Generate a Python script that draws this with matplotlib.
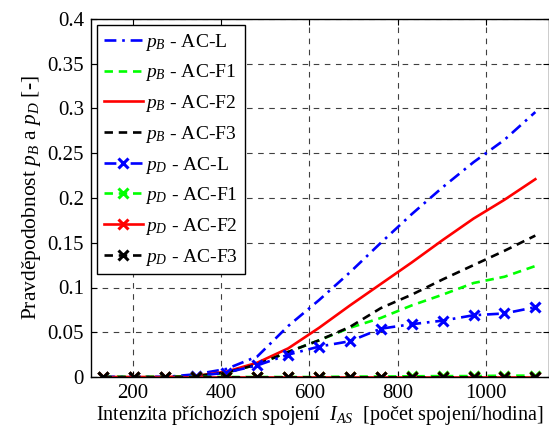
import numpy as np
import matplotlib
matplotlib.use('Agg')
from matplotlib import pyplot as plt

# intensity of incoming connections [connections/hour]
intensity = [132, 202, 272, 342, 412, 482, 552, 622, 692, 762,
             832, 902, 972, 1042, 1112]

# blocking probability p_B
pB_L = [0, 0, 0, 0.003, 0.009, 0.023, 0.057, 0.086, 0.117, 0.150,
        0.182, 0.212, 0.240, 0.265, 0.296]
pB_F1 = [0, 0, 0, 0.001, 0.005, 0.014, 0.028, 0.041, 0.055, 0.066,
         0.080, 0.092, 0.105, 0.112, 0.124]
pB_F2 = [0, 0, 0, 0.001, 0.006, 0.016, 0.032, 0.055, 0.080, 0.104,
         0.128, 0.153, 0.177, 0.198, 0.221]
pB_F3 = [0, 0, 0, 0.001, 0.005, 0.014, 0.028, 0.041, 0.056, 0.077,
         0.092, 0.109, 0.125, 0.141, 0.158]

# loss probability p_D
pD_L = [0, 0, 0, 0.001, 0.005, 0.013, 0.025, 0.034, 0.040, 0.054,
        0.059, 0.063, 0.069, 0.071, 0.078]
pD_F1 = [0, 0, 0, 0, 0, 0, 0, 0, 0.0005, 0.0005,
         0.0008, 0.001, 0.001, 0.0015, 0.0015]
pD_F2 = [0] * 15
pD_F3 = [0] * 15

plt.rcParams['font.family'] = ['Liberation Serif', 'DejaVu Serif']
plt.rcParams['mathtext.fontset'] = 'custom'
plt.rcParams['mathtext.rm'] = 'Liberation Serif'
plt.rcParams['mathtext.it'] = 'Liberation Serif:italic'

fig = plt.figure(figsize=(5.49, 4.32), dpi=100)
ax = fig.add_axes([91 / 549, 55 / 432, 458 / 549, 358 / 432])

lw = 1.9
dashdot = (0, (4.5, 2.2, 1.0, 2.2))
dashed = (0, (3.2, 2.2))
ax.plot(intensity, pB_L, color='b', ls=dashdot, lw=lw, label='$p_B$ - AC-L')
ax.plot(intensity, pB_F1, color='#00ff00', ls=dashed, lw=lw, label='$p_B$ - AC-F1')
ax.plot(intensity, pB_F2, color='r', ls='-', lw=lw, label='$p_B$ - AC-F2')
ax.plot(intensity, pB_F3, color='k', ls=dashed, lw=lw, label='$p_B$ - AC-F3')
mk = dict(marker='x', ms=7, mew=2.2)
ax.plot(intensity, pD_L, color='b', ls=dashdot, lw=lw, label='$p_D$ - AC-L', **mk)
ax.plot(intensity, pD_F1, color='#00ff00', ls=dashed, lw=lw, label='$p_D$ - AC-F1', **mk)
ax.plot(intensity, pD_F2, color='r', ls='-', lw=lw, label='$p_D$ - AC-F2', **mk)
ax.plot(intensity, pD_F3, color='k', ls=dashed, lw=lw, label='$p_D$ - AC-F3', **mk)

ax.set_xlim(105, 1143)
ax.set_ylim(0, 0.4)
ax.set_xticks([200, 400, 600, 800, 1000])
yt = np.arange(0, 0.41, 0.05)
ax.set_yticks(yt)
ax.set_yticklabels(['0'] + ['%g' % v for v in yt[1:]])
ax.tick_params(direction='in', top=True, right=True, labelsize=15, length=4,
               pad=5)
ax.grid(True, color='0.25', ls=(0, (5, 5)), lw=0.8)
for s in ax.spines.values():
    s.set_linewidth(1.0)

ax.set_xlabel('Intenzita příchozích spojení  $I_{AS}$  [počet spojení/hodina]',
              fontsize=14.5, labelpad=1)
ax.set_ylabel('Pravděpodobnost $p_B$ a $p_D$ [-]', fontsize=15.5, labelpad=3)

leg = ax.legend(loc='upper left', fontsize=14, handlelength=2.0,
                handletextpad=0.15, labelspacing=0.5, borderpad=0.35,
                borderaxespad=0.3, fancybox=False, framealpha=1,
                edgecolor='k')
leg.get_frame().set_linewidth(1.0)

fig.savefig('out.png', dpi=100)
